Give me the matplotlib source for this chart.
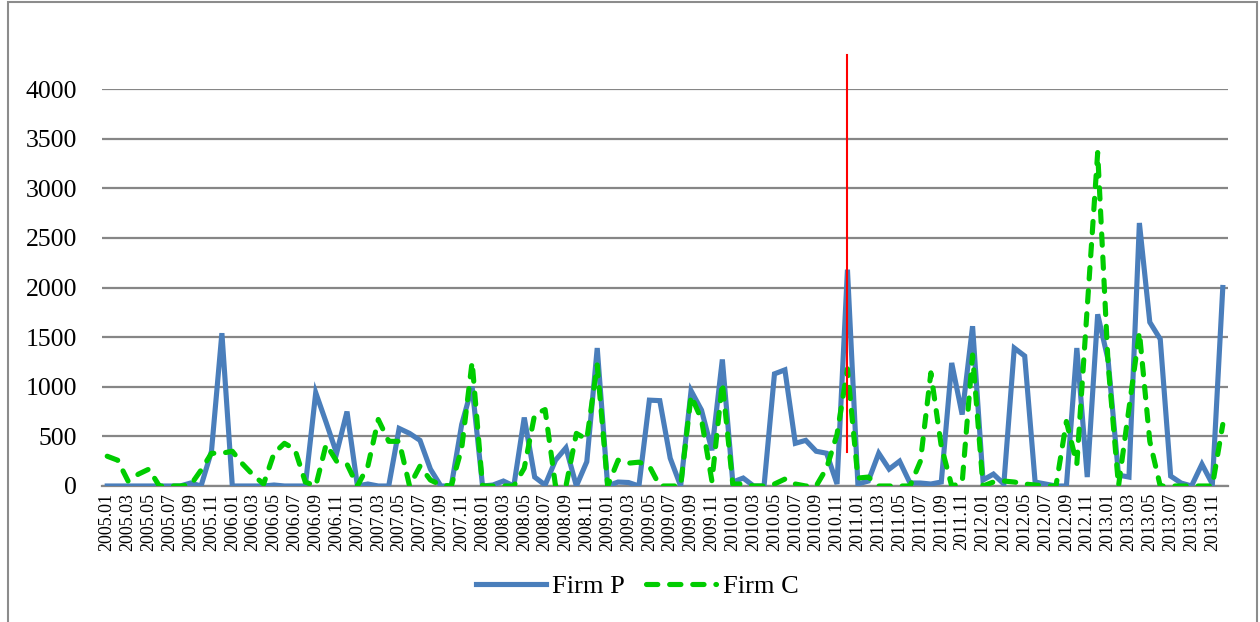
import matplotlib
matplotlib.use('Agg')
import matplotlib.pyplot as plt
from matplotlib.patches import Rectangle

plt.rcParams['font.family'] = ['Liberation Serif', 'DejaVu Serif']

# monthly series, 2005.01 .. 2013.12
years = list(range(2005, 2014))
months = ['%d.%02d' % (y, m) for y in years for m in range(1, 13)]

firm_p = [0, 0, 0, 0, 0, 0, 0, 0, 30, 0,
          350, 1540, 0, 0, 0, 0, 10, 0, 0, 0,
          940, 640, 330, 750, 0, 20, 0, 0, 580, 530,
          460, 170, 0, 0, 620, 1000, 0, 10, 50, 0,
          690, 90, 10, 260, 385, 0, 245, 1390, 0, 40,
          35, 0, 865, 860, 280, 0, 960, 765, 360, 1275,
          40, 80, 0, 0, 1130, 1170, 430, 460, 350, 330,
          20, 2180, 20, 50, 330, 170, 250, 30, 30, 20,
          40, 1240, 720, 1610, 60, 120, 20, 1390, 1310, 40,
          20, 0, 0, 1390, 90, 1730, 1270, 110, 90, 2650,
          1650, 1480, 100, 30, 0, 220, 20, 2000]

firm_c = [300, 260, 50, 120, 170, 0, 0, 0, 10, 160,
          330, 330, 350, 220, 110, 20, 330, 430, 370, 40,
          0, 420, 250, 220, 0, 200, 670, 450, 450, 0,
          200, 60, 10, 0, 380, 1250, 0, 0, 0, 0,
          180, 720, 770, 0, 0, 530, 470, 1220, 0, 260,
          230, 240, 200, 0, 0, 0, 910, 670, 50, 1040,
          20, 20, 0, 0, 20, 70, 20, 0, 0, 180,
          520, 1180, 80, 90, 0, 0, 0, 0, 250, 1140,
          400, 0, 30, 1320, 0, 40, 50, 40, 20, 10,
          0, 0, 650, 220, 1800, 3360, 1230, 0, 780, 1550,
          450, 0, 0, 0, 0, 0, 0, 620]

# vertical marker at 2010.12
event_month = '2010.12'
event_span = [340, 4340]

x = list(range(len(months)))

fig = plt.figure(figsize=(12.6, 6.22), dpi=100)
ax = fig.add_axes([102/1260, 1 - 486/622, 1126/1260, 397/622])

ax.plot(x, firm_p, color='#4A7EBB', lw=3.7, solid_joinstyle='miter', label='Firm P', zorder=3)
ax.plot(x, firm_c, color='#00CC00', lw=3.7, dashes=(2.2, 2.3), dash_capstyle='round',
        label='Firm C', zorder=4)

ex = months.index(event_month)
ax.plot([ex, ex], event_span, color='#FF0000', lw=1.5, clip_on=False, zorder=5)

ax.set_xlim(-0.5, len(months) - 0.5)
ax.set_ylim(0, 4000)
ax.set_yticks(range(0, 4001, 500))
ax.yaxis.grid(True, color='#868686', lw=1.6)
ax.set_axisbelow(True)
for s in ['left', 'right', 'top']:
    ax.spines[s].set_visible(False)
ax.spines['bottom'].set_color('#868686')
ax.spines['bottom'].set_linewidth(1.6)

ax.set_xticks(x[::2])
ax.set_xticklabels(months[::2], rotation=90, fontsize=13)
ax.tick_params(axis='x', length=0, pad=5)
ax.tick_params(axis='y', length=0, pad=18, labelsize=18.5)

fig.legend(loc='center', bbox_to_anchor=(637/1260, 1 - 586/622), ncol=2, frameon=False,
           fontsize=19, handlelength=2.65, handletextpad=0.25, columnspacing=0.8)

# outer chart border
fig.patches.append(Rectangle((8/1260, -0.02), 1249/1260, 1.02 - 2/622, transform=fig.transFigure,
                             fill=False, edgecolor='#8C8C8C', lw=1.5))

fig.savefig('out.png', dpi=100)
